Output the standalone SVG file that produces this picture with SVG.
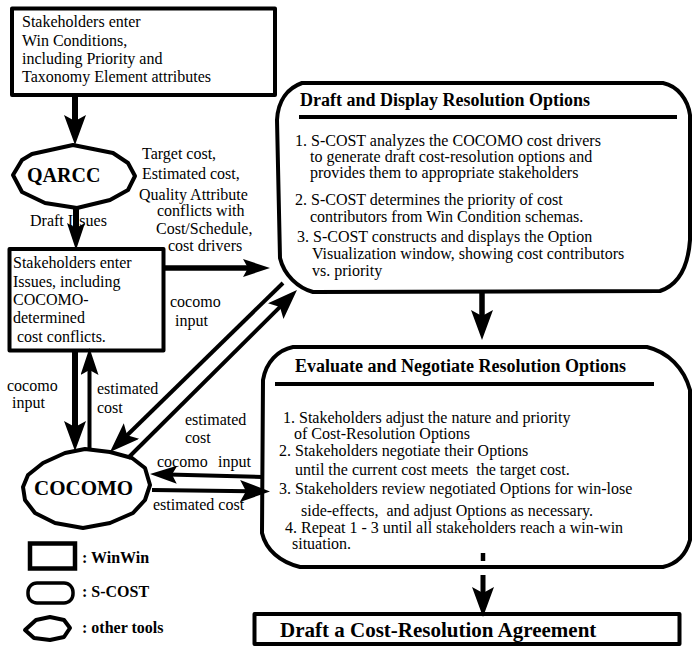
<svg xmlns="http://www.w3.org/2000/svg" width="692" height="647" viewBox="0 0 692 647">
<style>
text{font-family:"Liberation Serif","Times New Roman",serif;font-size:16px;fill:#000}
.b{font-weight:bold}
.h{font-weight:bold;font-size:18px}
.shape{fill:#fff;stroke:#000;stroke-width:4;stroke-linejoin:round}
.c{stroke:#000;fill:none}
.pre{white-space:pre}
</style>
<defs>
<marker id="ahL" markerUnits="userSpaceOnUse" viewBox="0 0 30 22" markerWidth="30" markerHeight="22" refX="10" refY="11" orient="auto"><path d="M0,0 L30,11 L0,22 L6,11 Z" fill="#000"/></marker>
<marker id="ahM" markerUnits="userSpaceOnUse" viewBox="0 0 27 18" markerWidth="27" markerHeight="18" refX="9" refY="9" orient="auto"><path d="M0,0 L27,9 L0,18 L5,9 Z" fill="#000"/></marker>
</defs>
<rect width="692" height="647" fill="#fff"/>

<g id="winconditions">
<rect class="shape" x="12" y="8.5" width="263" height="86.5"/>
<text x="22" y="27">Stakeholders enter</text>
<text x="22" y="45.5">Win Conditions,</text>
<text x="22" y="64">including Priority and</text>
<text x="22" y="82">Taxonomy Element attributes</text>
</g>

<g id="qarcc">
<polygon class="shape" points="73,145 113,153 128,163 135,176 128,190 110,200 77,208 45,203 22,192 13,175 22,160 32,154"/>
<text class="b" x="27" y="182" style="font-size:20px">QARCC</text>
</g>

<g id="issues">
<rect class="shape" x="9.5" y="249" width="154" height="101.5"/>
<text x="13" y="268">Stakeholders enter</text>
<text x="13" y="286.5">Issues, including</text>
<text x="13" y="305">COCOMO-</text>
<text x="13" y="323">determined</text>
<text x="13" y="341.5" class="pre"> cost conflicts.</text>
</g>

<g id="cocomo">
<polygon class="shape" points="85,449 110,452 132,458 145,468 150,485 145,500 133,513 110,523 83,528 55,523 35,513 25,500 23,487 28,475 43,463 65,453"/>
<text class="b" x="34" y="495" style="font-size:21px">COCOMO</text>
</g>

<g id="draft-display">
<path class="shape" d="M302,83 L663,83 C678,86 688,100 690,115 L690,240 C688,268 678,285 660,291 L313,292 C298,288 284,275 280,258 L277,120 C278,100 288,88 302,83 Z"/>
<text class="h" x="300" y="106">Draft and Display Resolution Options</text>
<line x1="299" y1="117" x2="677" y2="117" stroke="#000" stroke-width="4"/>
<text x="295" y="146">1. S-COST analyzes the COCOMO cost drivers</text>
<text x="310" y="162">to generate draft cost-resolution options and</text>
<text x="310" y="178">provides them to appropriate stakeholders</text>
<text x="295" y="205">2. S-COST determines the priority of cost</text>
<text x="310" y="222">contributors from Win Condition schemas.</text>
<text x="297" y="241.5">3. S-COST constructs and displays the Option</text>
<text x="312" y="259">Visualization window, showing cost contributors</text>
<text x="312" y="276">vs. priority</text>
</g>

<g id="evaluate-negotiate">
<path class="shape" d="M293,347 L647,347 C668,352 684,368 690,390 L690,540 C686,555 676,564 663,567 L300,567 C280,562 266,550 262,533 L263,380 C266,362 278,350 293,347 Z"/>
<text class="h" x="295" y="372">Evaluate and Negotiate Resolution Options</text>
<line x1="275" y1="384" x2="654" y2="384" stroke="#000" stroke-width="4"/>
<text x="283" y="423">1. Stakeholders adjust the nature and priority</text>
<text x="294" y="438.5">of Cost-Resolution Options</text>
<text x="279" y="456">2. Stakeholders negotiate their Options</text>
<text x="295" y="475" class="pre">until the current cost meets  the target cost.</text>
<text x="279" y="493.5">3. Stakeholders review negotiated Options for win-lose</text>
<text x="301" y="515.5" class="pre">side-effects,  and adjust Options as necessary.</text>
<text x="285" y="533">4. Repeat 1 - 3 until all stakeholders reach a win-win</text>
<text x="292" y="549">situation.</text>
</g>

<g id="agreement">
<rect class="shape" x="254.5" y="614" width="425" height="30"/>
<text class="b" x="280" y="637" style="font-size:21px">Draft a Cost-Resolution Agreement</text>
</g>

<g id="legend">
<rect x="30" y="543.5" width="45" height="25" fill="#fff" stroke="#000" stroke-width="4.5"/>
<text class="b" x="82" y="563">: WinWin</text>
<rect x="28" y="583" width="45" height="20" rx="9" ry="9" fill="#fff" stroke="#000" stroke-width="3.5"/>
<text class="b" x="82" y="597">: S-COST</text>
<polygon points="25,630 36,620 50,617 64,620 70,628 64,637 50,640 34,638" fill="#fff" stroke="#000" stroke-width="4" stroke-linejoin="round"/>
<text class="b" x="82" y="633">: other tools</text>
</g>

<g id="labels">
<text x="142" y="159">Target cost,</text>
<text x="142" y="179">Estimated cost,</text>
<text x="139" y="200">Quality Attribute</text>
<text x="157" y="216">conflicts with</text>
<text x="156" y="234">Cost/Schedule,</text>
<text x="168" y="251">cost drivers</text>
<text x="30" y="226">Draft Issues</text>
<text x="170" y="307">cocomo</text>
<text x="175" y="326">input</text>
<text x="7" y="391">cocomo</text>
<text x="12" y="408">input</text>
<text x="97" y="394">estimated</text>
<text x="97" y="413">cost</text>
<text x="185" y="425">estimated</text>
<text x="185" y="443">cost</text>
<text x="157" y="467">cocomo</text>
<text x="218" y="467">input</text>
<text x="153" y="510">estimated cost</text>
</g>

<g id="connectors" class="c">
<line x1="75" y1="97" x2="75" y2="125" stroke-width="6" marker-end="url(#ahL)"/>
<line x1="76" y1="208" x2="76" y2="232" stroke-width="6" marker-end="url(#ahM)"/>
<line x1="165" y1="268" x2="252" y2="268" stroke-width="5.5" marker-end="url(#ahM)"/>
<line x1="482" y1="293" x2="482" y2="320" stroke-width="5.5" marker-end="url(#ahL)"/>
<line x1="483" y1="553" x2="483" y2="561" stroke-width="4.5"/>
<line x1="483" y1="575" x2="483" y2="597" stroke-width="5" marker-end="url(#ahL)"/>
<line x1="75" y1="352" x2="75" y2="431" stroke-width="6" marker-end="url(#ahL)"/>
<line x1="89.5" y1="449" x2="89.5" y2="366" stroke-width="4" marker-end="url(#ahM)"/>
<line x1="283" y1="283" x2="124.3" y2="438" stroke-width="4" marker-end="url(#ahL)"/>
<line x1="128" y1="458" x2="282.8" y2="304.1" stroke-width="4" marker-end="url(#ahL)"/>
<line x1="262" y1="477" x2="168" y2="474.5" stroke-width="4" marker-end="url(#ahM)"/>
<line x1="152" y1="490" x2="250" y2="491.2" stroke-width="4" marker-end="url(#ahL)"/>
</g>
</svg>
